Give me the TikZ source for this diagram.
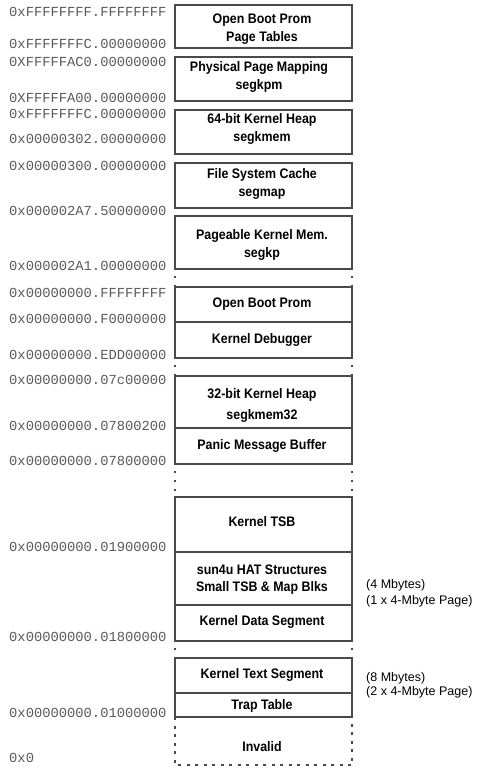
\documentclass[tikz,border=0pt]{standalone}
\usepackage{fontspec}
\setmainfont{Liberation Sans}
\newfontfamily\boxfont[FakeStretch=0.9]{Liberation Sans}
\newfontfamily\addrfont{Liberation Mono}
\definecolor{linegray}{HTML}{4A4A4A}
\definecolor{addrgray}{HTML}{5A5A5A}
\begin{document}
\begin{tikzpicture}[x=1pt,y=-1pt,
  boxline/.style={draw=linegray, line width=1.2pt},
  gapline/.style={draw=linegray, line width=1.2pt, dash pattern=on 2.5pt off 6.5pt, dash phase=2.5pt},
  invline/.style={draw=linegray, line width=1.2pt, dash pattern=on 3pt off 5.5pt},
  addr/.style={anchor=base west, inner sep=0pt, font=\addrfont\fontsize{13.8}{14}\selectfont, text=addrgray},
  lbl/.style={inner sep=0pt, align=center, font=\boxfont\bfseries\fontsize{13.8}{17.5}\selectfont},
  side/.style={anchor=west, inner sep=0pt, font=\fontsize{12.5}{14}\selectfont}]
\fill[white] (0,0) rectangle (480,772);
\useasboundingbox (0,0) rectangle (480,772);

% ---- upper (64-bit) segments
\draw[boxline] (175,5) rectangle (352,48);
\draw[boxline] (175,57) rectangle (352,101);
\draw[boxline] (175,110) rectangle (352,154);
\draw[boxline] (175,163) rectangle (352,208);
\draw[boxline] (175,216) rectangle (352,269);
\draw[gapline] (175,269) -- (175,287);
\draw[gapline] (352,269) -- (352,287);

% ---- OBP / debugger
\draw[boxline] (175,287) rectangle (352,358);
\draw[boxline] (175,322) -- (352,322);
\draw[gapline] (175,358) -- (175,376);
\draw[gapline] (352,358) -- (352,376);

% ---- 32-bit heap / panic buffer
\draw[boxline] (175,376) rectangle (352,464);
\draw[boxline] (175,428) -- (352,428);
\draw[gapline] (175,464) -- (175,497);
\draw[gapline] (352,464) -- (352,497);

% ---- TSB / HAT / data
\draw[boxline] (175,497) rectangle (352,641);
\draw[boxline] (175,552) -- (352,552);
\draw[boxline] (175,605) -- (352,605);
\draw[gapline] (175,641) -- (175,658);
\draw[gapline] (352,641) -- (352,658);

% ---- text / trap table
\draw[boxline] (175,658) rectangle (352,717);
\draw[boxline] (175,693) -- (352,693);

% ---- invalid
\draw[invline] (175,717) -- (175,765) -- (352,765) -- (352,717);

% ---- segment texts
\node[lbl] (obpt) at (262,29) {Open Boot Prom\\Page Tables};
\node[lbl] (segkpm) at (259,77) {Physical Page Mapping\\segkpm};
\node[lbl] (segkmem) at (262,129) {64-bit Kernel Heap\\segkmem};
\node[lbl] (segmap) at (262,184) {File System Cache\\segmap};
\node[lbl] (segkp) at (262,245) {Pageable Kernel Mem.\\segkp};
\node[lbl] (obp) at (262,304) {Open Boot Prom};
\node[lbl] (kdbg) at (262,340) {Kernel Debugger};
\node[lbl, font=\boxfont\bfseries\fontsize{13.8}{21}\selectfont] (segkmem32) at (262,405) {32-bit Kernel Heap\\segkmem32};
\node[lbl] (panic) at (262,446) {Panic Message Buffer};
\node[lbl] (ktsb) at (262,522) {Kernel TSB};
\node[lbl] (hat) at (262,579.5) {sun4u HAT Structures\\Small TSB \& Map Blks};
\node[lbl] (kdata) at (262,622) {Kernel Data Segment};
\node[lbl] (ktext) at (262,675) {Kernel Text Segment};
\node[lbl] (trap) at (262,706) {Trap Table};
\node[lbl] (invalid) at (262,747) {Invalid};

% ---- side notes
\node[side] (d4) at (366,585) {(4 Mbytes)};
\node[side] (d4p) at (366,601.5) {(1 x 4-Mbyte Page)};
\node[side] (t8) at (366,678) {(8 Mbytes)};
\node[side] (t8p) at (366,692) {(2 x 4-Mbyte Page)};

% ---- addresses
\node[addr] (a1) at (9,16) {0xFFFFFFFF.FFFFFFFF};
\node[addr] (a2) at (9,48) {0xFFFFFFFC.00000000};
\node[addr] (a3) at (9,66) {0XFFFFFAC0.00000000};
\node[addr] (a4) at (9,102) {0XFFFFFA00.00000000};
\node[addr] (a5) at (9,118) {0xFFFFFFFC.00000000};
\node[addr] (a6) at (9,143) {0x00000302.00000000};
\node[addr] (a7) at (9,170) {0x00000300.00000000};
\node[addr] (a8) at (9,215) {0x000002A7.50000000};
\node[addr] (a9) at (9,270) {0x000002A1.00000000};
\node[addr] (a10) at (9,297) {0x00000000.FFFFFFFF};
\node[addr] (a11) at (9,323) {0x00000000.F0000000};
\node[addr] (a12) at (9,359) {0x00000000.EDD00000};
\node[addr] (a13) at (9,384) {0x00000000.07c00000};
\node[addr] (a14) at (9,430) {0x00000000.07800200};
\node[addr] (a15) at (9,465) {0x00000000.07800000};
\node[addr] (a16) at (9,551) {0x00000000.01900000};
\node[addr] (a17) at (9,641) {0x00000000.01800000};
\node[addr] (a18) at (9,717) {0x00000000.01000000};
\node[addr] (a19) at (9,762) {0x0};
\end{tikzpicture}
\end{document}
